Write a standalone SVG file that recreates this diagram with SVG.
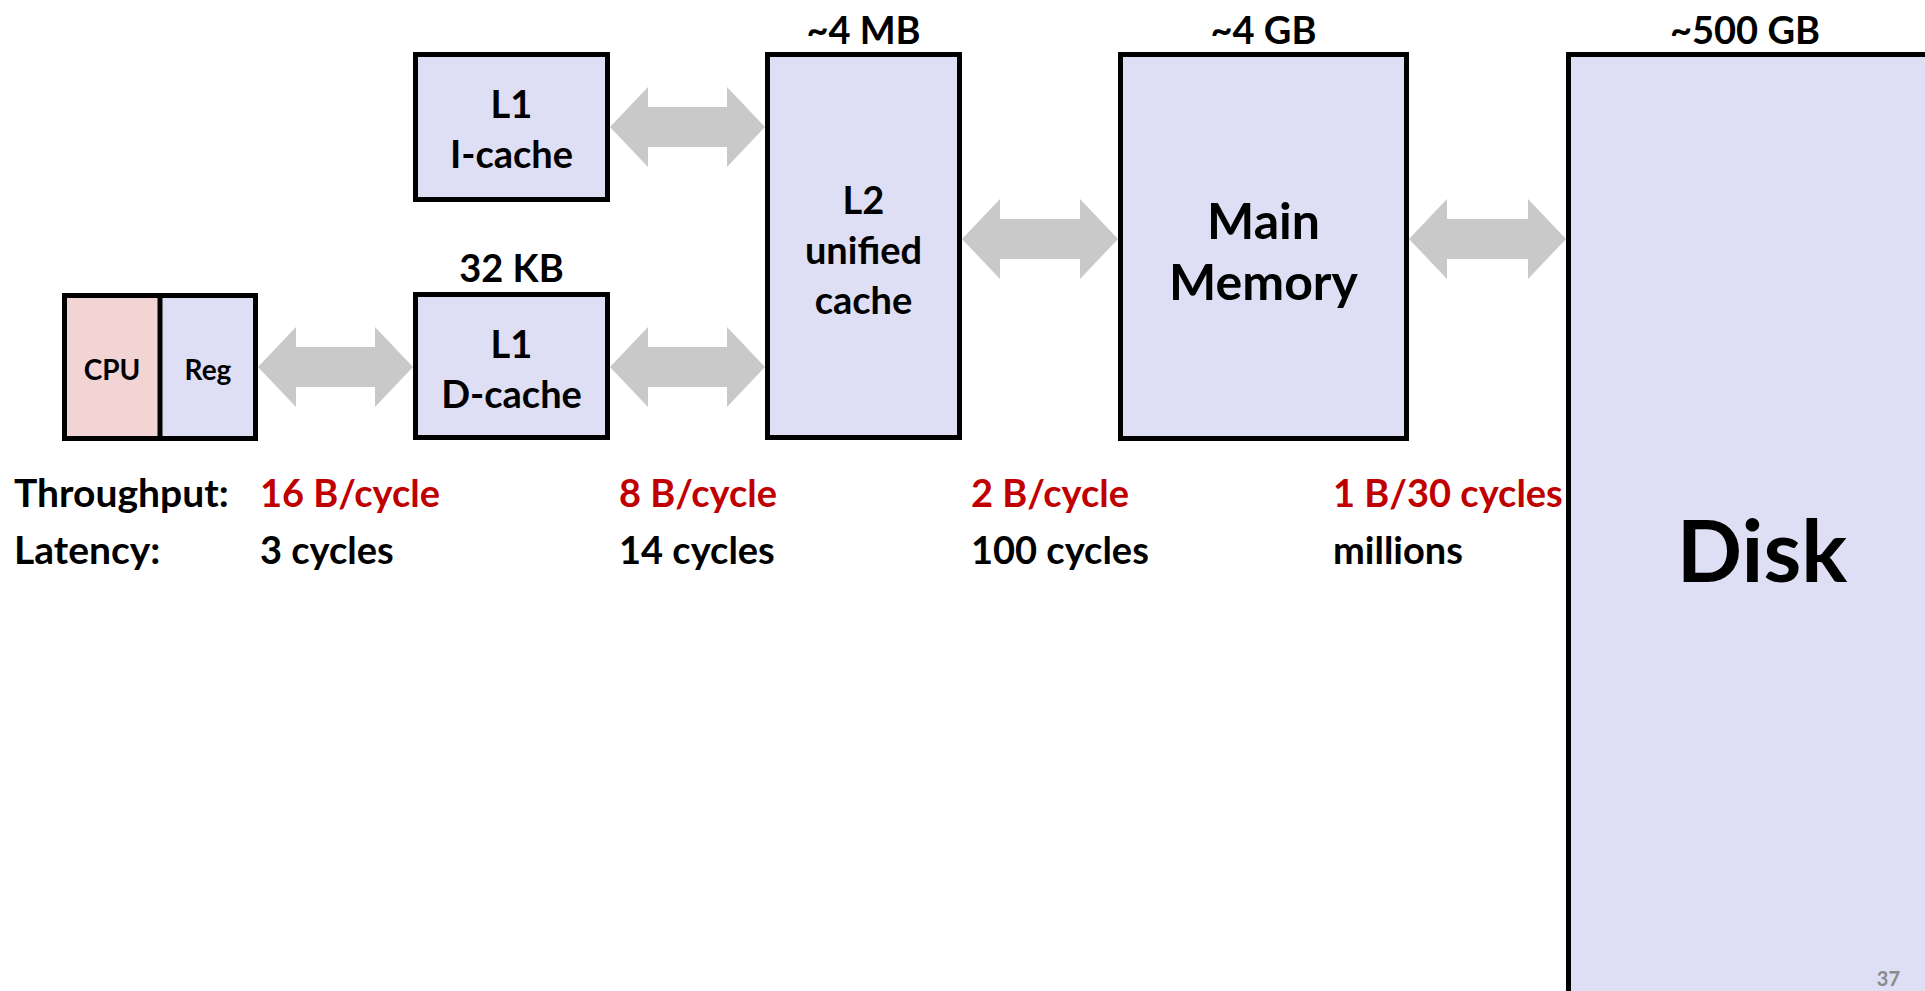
<svg xmlns="http://www.w3.org/2000/svg" width="1925" height="991" viewBox="0 0 1925 991">
<style>
.box{fill:#DEDEF4;stroke:#000;stroke-width:5}
.t{font-family:Lato,"Liberation Sans",sans-serif;font-weight:bold;fill:#000}
.c{text-anchor:middle}
.m{font-size:38px}
.b{font-size:39px}
.red{fill:#C00000}
.arrow{fill:#C9C9C9;stroke:none}
</style>
<rect width="1925" height="991" fill="#fff"/>
<g id="connectors">
<path class="arrow" d="M258,367 L296,327 L296,347 L375,347 L375,327 L413,367 L375,407 L375,387 L296,387 L296,407 Z"/>
<path class="arrow" d="M610,127 L648,87 L648,107 L727,107 L727,87 L765,127 L727,167 L727,147 L648,147 L648,167 Z"/>
<path class="arrow" d="M610,367 L648,327 L648,347 L727,347 L727,327 L765,367 L727,407 L727,387 L648,387 L648,407 Z"/>
<path class="arrow" d="M962,239 L1000,199 L1000,219 L1080,219 L1080,199 L1118,239 L1080,279 L1080,259 L1000,259 L1000,279 Z"/>
<path class="arrow" d="M1409,239 L1447,199 L1447,219 L1528,219 L1528,199 L1566,239 L1528,279 L1528,259 L1447,259 L1447,279 Z"/>
</g>
<g id="cpu-reg">
<rect x="64.5" y="295.5" width="95.5" height="143" fill="#F2D4D4"/>
<rect x="160" y="295.5" width="95.5" height="143" fill="#DEDEF4"/>
<rect x="64.5" y="295.5" width="191" height="143" fill="none" stroke="#000" stroke-width="5"/>
<line x1="160" y1="295.5" x2="160" y2="438.5" stroke="#000" stroke-width="5"/>
<text class="t c" x="112" y="380" font-size="28">CPU</text>
<text class="t c" x="208" y="380" font-size="28">Reg</text>
</g>
<g id="l1-icache">
<rect class="box" x="415.5" y="54.5" width="192" height="145"/>
<text class="t c m" x="511.5" y="118">L1</text>
<text class="t c m" x="511.5" y="168">I-cache</text>
</g>
<g id="l1-dcache">
<text class="t c m" x="511.5" y="282">32 KB</text>
<rect class="box" x="415.5" y="294.5" width="192" height="143"/>
<text class="t c m" x="511.5" y="358">L1</text>
<text class="t c m" x="511.5" y="408">D-cache</text>
</g>
<g id="l2">
<text class="t c m" x="863.5" y="44">~4 MB</text>
<rect class="box" x="767.5" y="54.5" width="192" height="383"/>
<text class="t c m" x="863.5" y="214">L2</text>
<text class="t c m" x="863.5" y="264">unified</text>
<text class="t c m" x="863.5" y="314">cache</text>
</g>
<g id="main-memory">
<text class="t c m" x="1263.5" y="44">~4 GB</text>
<rect class="box" x="1120.5" y="54.5" width="286" height="384"/>
<text class="t c" x="1263.5" y="239" font-size="50">Main</text>
<text class="t c" x="1263.5" y="300" font-size="50">Memory</text>
</g>
<g id="disk">
<text class="t c m" x="1745" y="44">~500 GB</text>
<rect class="box" x="1568.5" y="54.5" width="400" height="1000"/>
<text class="t c" x="1762" y="582" font-size="86">Disk</text>
</g>
<g id="metrics">
<text class="t b" x="14" y="507">Throughput:</text>
<text class="t b" x="14" y="564">Latency:</text>
<text class="t m red" x="260" y="507">16 B/cycle</text>
<text class="t m" x="260" y="564">3 cycles</text>
<text class="t m red" x="619" y="507">8 B/cycle</text>
<text class="t m" x="619" y="564">14 cycles</text>
<text class="t m red" x="971" y="507">2 B/cycle</text>
<text class="t m" x="971" y="564">100 cycles</text>
<text class="t m red" x="1333" y="507">1 B/30 cycles</text>
<text class="t m" x="1333" y="564">millions</text>
</g>
<text class="t" x="1900" y="986" font-size="20" style="fill:#8A8A8A;text-anchor:end">37</text>
</svg>
